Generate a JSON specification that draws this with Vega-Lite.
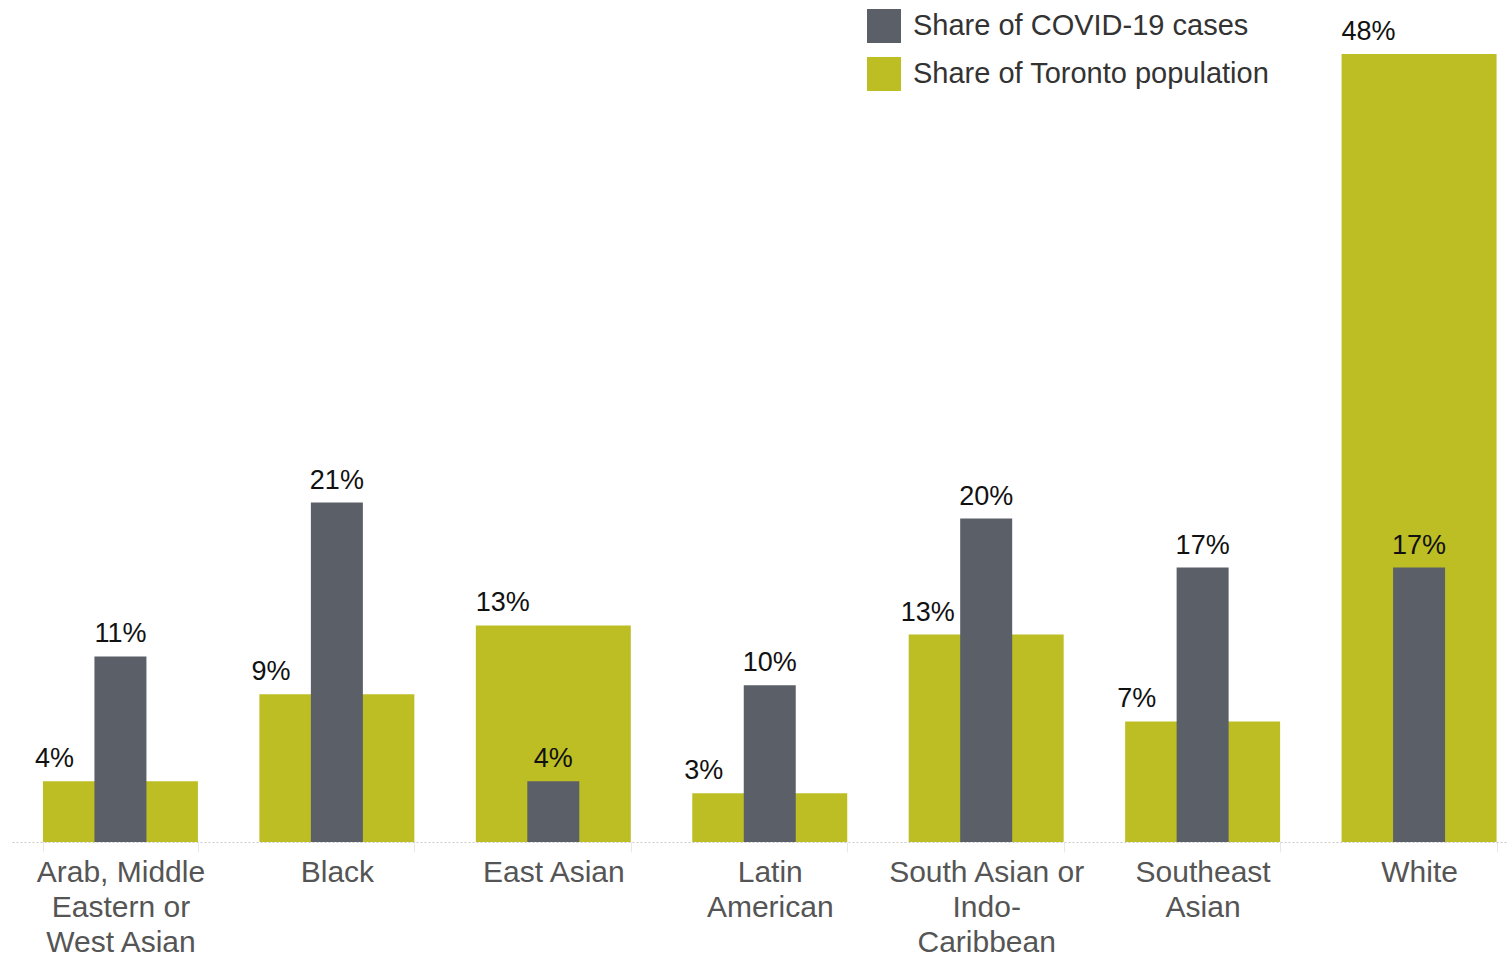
{
  "$schema": "https://vega.github.io/schema/vega-lite/v6.json",
  "width": 1496,
  "height": 788,
  "autosize": {"type": "none"},
  "padding": {"left": 12, "top": 54, "right": 0, "bottom": 113},
  "config": {"view": {"stroke": null}, "font": "Liberation Sans"},
  "data": {
    "values": [
      {"cat": "Arab, Middle|Eastern or|West Asian", "pop": 3.70, "cases": 11.31},
      {"cat": "Black", "pop": 9.0, "cases": 20.69},
      {"cat": "East Asian", "pop": 13.2, "cases": 3.70},
      {"cat": "Latin|American", "pop": 2.97, "cases": 9.55},
      {"cat": "South Asian or|Indo-|Caribbean", "pop": 12.65, "cases": 19.72},
      {"cat": "Southeast|Asian", "pop": 7.35, "cases": 16.73},
      {"cat": "White", "pop": 48.04, "cases": 16.73}
    ]
  },
  "transform": [
    {"calculate": "format(datum.pop, '.0f') + '%'", "as": "popLabel"},
    {"calculate": "format(datum.cases, '.0f') + '%'", "as": "casesLabel"}
  ],
  "encoding": {
    "x": {
      "field": "cat",
      "type": "nominal",
      "sort": null,
      "scale": {"range": [0, 1515.5], "paddingInner": 0.284, "paddingOuter": 0.143},
      "axis": {
        "title": null,
        "labelAngle": 0,
        "labelFontSize": 30,
        "labelColor": "#555555",
        "labelLineHeight": 35,
        "labelLimit": 0,
        "labelExpr": "split(datum.label, '|')",
        "labelPadding": 5,
        "domainColor": "#c8c8c8",
        "domainDash": [2, 2],
        "tickColor": "#e8e8e8",
        "tickBand": "extent",
        "tickSize": 10
      }
    }
  },
  "layer": [
    {
      "mark": {"type": "bar"},
      "encoding": {
        "y": {"field": "pop", "type": "quantitative", "scale": {"domain": [0, 48.04], "nice": false, "zero": true}, "axis": null},
        "color": {
          "datum": "Share of Toronto population",
          "type": "nominal",
          "scale": {
            "domain": ["Share of COVID-19 cases", "Share of Toronto population"],
            "range": ["#5b5f68", "#bdbe24"]
          },
          "legend": {
            "title": null,
            "orient": "none",
            "legendX": 855,
            "legendY": -45,
            "padding": 0,
            "symbolType": "square",
            "symbolSize": 1156,
            "symbolStrokeWidth": 0,
            "labelFontSize": 29,
            "labelLimit": 0,
            "labelColor": "#333333",
            "labelOffset": 12,
            "rowPadding": 14
          }
        }
      }
    },
    {
      "mark": {"type": "bar", "width": 52},
      "encoding": {
        "y": {"field": "cases", "type": "quantitative"},
        "color": {"datum": "Share of COVID-19 cases", "type": "nominal"}
      }
    },
    {
      "mark": {"type": "text", "fontSize": 27, "color": "#111111", "baseline": "alphabetic", "dy": -14},
      "encoding": {
        "y": {"field": "cases", "type": "quantitative"},
        "text": {"field": "casesLabel"}
      }
    },
    {
      "mark": {"type": "text", "fontSize": 27, "color": "#111111", "baseline": "alphabetic", "align": "left", "dy": -14, "dx": {"expr": "datum.pop < datum.cases ? -8 : 0"}},
      "encoding": {
        "x": {"field": "cat", "type": "nominal", "sort": null, "bandPosition": 0},
        "y": {"field": "pop", "type": "quantitative"},
        "text": {"field": "popLabel"}
      }
    }
  ]
}
